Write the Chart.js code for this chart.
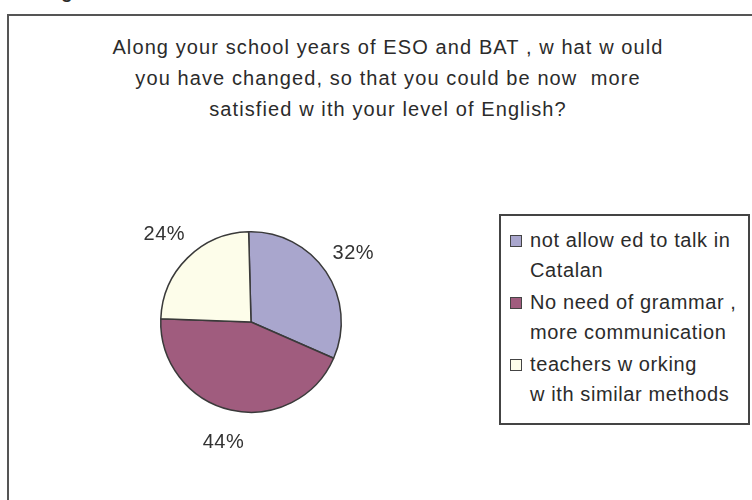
<!DOCTYPE html>
<html lang="en">
<head>
    <meta charset="UTF-8">
    <title>Changes in English classes</title>
    <script src="https://cdn.jsdelivr.net/npm/chart.js"></script>
    <style>
        body { margin: 0; background: #fff; font-family: "Liberation Sans", Arial, sans-serif; color: #2b2b2b; }
        #wrap { position: relative; width: 752px; height: 500px; overflow: hidden; }
        #frame { position: absolute; left: 7px; top: 14px; width: 800px; height: 560px; border: 2px solid #555; }
        #heading { position: absolute; left: 61px; top: -19px; font-size: 19px; font-weight: bold; }
        #title { position: absolute; left: 88px; width: 600px; top: 32px; text-align: center; font-size: 20px; line-height: 31px; letter-spacing: 1.1px; }
        canvas { position: absolute; left: 0; top: 0; }
        #legend { position: absolute; left: 499px; top: 214px; width: 247px; height: 207px; border: 2px solid #444; background: #fff; }
        .item { position: absolute; left: 29px; font-size: 20px; line-height: 30px; letter-spacing: 0.6px; white-space: nowrap; }
        .sw { position: absolute; left: 9px; width: 10px; height: 10px; border: 1px solid #444; }
    </style>
</head>
<body>
<div id="wrap">
    <div id="frame"></div>
    <div id="heading">g</div>
    <div id="title">Along your school years of ESO and BAT , w hat w ould<br>you have changed, so that you could be now&nbsp; more<br>satisfied w ith your level of English?</div>
    <canvas id="pie" width="752" height="500"></canvas>
    <div id="legend"></div>
</div>

<script>
    // answers and their share of students (%)
    const answers = [
        ['not allow ed to talk in', 'Catalan'],
        ['No need of grammar ,', 'more communication'],
        ['teachers w orking', 'w ith similar methods']
    ];
    const shares = [32, 44, 24];
    const sliceColors = ['#a9a6cd', '#a05c7e', '#fdfdea'];

    // legend built from the same arrays
    const legend = document.getElementById('legend');
    const itemTops = [9, 71, 133];
    answers.forEach((lines, i) => {
        const item = document.createElement('div');
        item.className = 'item';
        item.style.top = itemTops[i] + 'px';
        item.innerHTML = lines.join('<br>');
        legend.appendChild(item);
        const sw = document.createElement('div');
        sw.className = 'sw';
        sw.style.top = (itemTops[i] + 10) + 'px';
        sw.style.background = sliceColors[i];
        legend.appendChild(sw);
    });

    // percentage labels just outside each slice
    const outsideLabels = {
        id: 'outsideLabels',
        afterDatasetsDraw(chart) {
            const ctx = chart.ctx;
            const meta = chart.getDatasetMeta(0);
            ctx.save();
            ctx.font = '20px "Liberation Sans", Arial, sans-serif';
            ctx.letterSpacing = '0.5px';
            ctx.fillStyle = '#333';
            ctx.textAlign = 'center';
            ctx.textBaseline = 'middle';
            meta.data.forEach((arc, i) => {
                const p = arc.getProps(['x', 'y', 'startAngle', 'endAngle', 'outerRadius'], true);
                const mid = (p.startAngle + p.endAngle) / 2;
                const r = p.outerRadius + 33;
                ctx.fillText(shares[i] + '%', p.x + Math.cos(mid) * r, p.y + Math.sin(mid) * r);
            });
            ctx.restore();
        }
    };

    new Chart(document.getElementById('pie'), {
        type: 'pie',
        data: {
            labels: answers.map(a => a.join(' ')),
            datasets: [{
                data: shares,
                backgroundColor: sliceColors,
                borderColor: '#3a3a3a',
                borderWidth: 1.5
            }]
        },
        options: {
            responsive: false,
            animation: false,
            rotation: -1.5,
            layout: { padding: { left: 160, right: 410, top: 231, bottom: 87 } },
            plugins: {
                legend: { display: false },
                tooltip: { enabled: false }
            }
        },
        plugins: [outsideLabels]
    });
</script>
</body>
</html>
